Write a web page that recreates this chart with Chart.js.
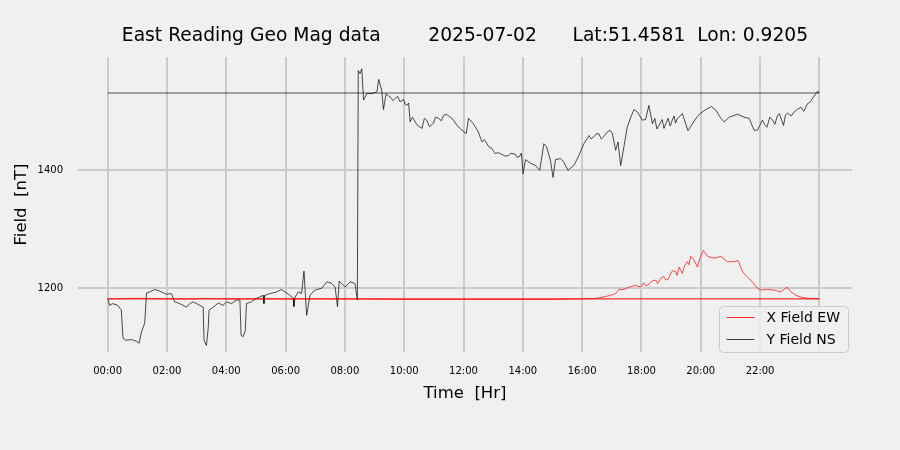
<!DOCTYPE html>
<html>
<head>
<meta charset="utf-8">
<title>East Reading Geo Mag data</title>
<script src="https://cdn.jsdelivr.net/npm/chart.js@4.4.0/dist/chart.umd.min.js"></script>
<style>
  html, body { margin: 0; padding: 0; background: #f0f0f0; }
  #wrap { width: 900px; height: 450px; }
</style>
</head>
<body>
<div id="wrap"><canvas id="geoChart" width="900" height="450"></canvas></div>
<script>
// East Reading magnetometer - one day of X (EW) and Y (NS) field

// ── Data ────────────────────────────────────────────────────────────────────
const titleText = 'East Reading Geo Mag data        2025-07-02      Lat:51.4581  Lon: 0.9205';

// Y field (NS), hours since midnight and nT
const yFieldHours = [
    0.01, 0.07, 0.17, 0.34, 0.46, 0.52, 0.61, 0.81, 0.98, 1.06, 1.14, 1.25, 1.31, 1.42, 1.59, 1.76,
    1.98, 2.15, 2.26, 2.43, 2.66, 2.77, 2.88, 3.11, 3.22, 3.25, 3.33, 3.39, 3.42, 3.56, 3.73, 3.89,
    4.01, 4.18, 4.34, 4.46, 4.50, 4.57, 4.64, 4.68, 4.85, 5.02, 5.24, 5.27, 5.30, 5.47, 5.70, 5.86,
    6.03, 6.15, 6.26, 6.28, 6.32, 6.43, 6.54, 6.62, 6.71, 6.82, 6.99, 7.22, 7.39, 7.56, 7.67, 7.75,
    7.81, 8.01, 8.18, 8.34, 8.42, 8.45, 8.51, 8.57, 8.63, 8.74, 8.91, 9.08, 9.14, 9.24, 9.30, 9.39,
    9.45, 9.53, 9.62, 9.70, 9.78, 9.86, 9.98, 10.03, 10.09, 10.15, 10.20, 10.28, 10.37, 10.45, 10.60, 10.68,
    10.76, 10.85, 10.99, 11.05, 11.16, 11.25, 11.33, 11.42, 11.55, 11.65, 11.78, 11.95, 12.09,
    12.17, 12.33, 12.50, 12.62, 12.70, 12.79, 12.85, 12.96, 13.00, 13.07, 13.15, 13.30, 13.40, 13.52, 13.60, 13.75,
    13.81, 13.90, 13.95, 14.01, 14.09, 14.26, 14.43,
    14.57, 14.71, 14.80, 14.93, 15.02, 15.10, 15.27, 15.38, 15.52, 15.72, 15.89, 16.06, 16.23, 16.30, 16.40, 16.48,
    16.56, 16.65, 16.73, 16.85,
    16.94, 17.02, 17.13, 17.21, 17.30, 17.41, 17.52, 17.64, 17.75, 17.86, 18.03, 18.14, 18.25, 18.37, 18.45, 18.52,
    18.59, 18.70, 18.76, 18.82, 18.90, 18.97,
    19.04, 19.10, 19.15, 19.21, 19.30, 19.38, 19.49, 19.57, 19.72, 19.88, 20.00, 20.17, 20.36, 20.51, 20.68, 20.79,
    20.96, 21.24, 21.46,
    21.63, 21.80, 21.91, 22.08, 22.15, 22.23, 22.33, 22.42, 22.50, 22.58, 22.65, 22.79, 22.86, 22.93, 23.05, 23.15,
    23.25, 23.38, 23.48, 23.60, 23.70, 23.77, 23.94, 24.00
];
const yFieldNT = [
    1181, 1171, 1174, 1171, 1163, 1115, 1112, 1113, 1110, 1107, 1126, 1141, 1192, 1194, 1198, 1195,
    1190, 1191, 1177, 1174, 1168, 1174, 1177, 1171, 1168, 1112, 1103, 1132, 1163, 1168, 1175, 1171,
    1177, 1174, 1180, 1180, 1120, 1118, 1128, 1174, 1177, 1183, 1188, 1174, 1188, 1191, 1194, 1198,
    1192, 1188, 1183, 1169, 1185, 1194, 1191, 1229, 1154, 1188, 1197, 1200, 1211, 1208, 1202, 1169,
    1212, 1202, 1211, 1208, 1180, 1569, 1564, 1572, 1519, 1530, 1530, 1533, 1554, 1536, 1503, 1530,
    1527, 1524, 1518, 1522, 1525, 1516, 1520, 1512, 1510, 1514, 1482, 1490, 1482, 1476, 1471, 1488,
    1485, 1474, 1480, 1490, 1488, 1484, 1493, 1495, 1490, 1486, 1476, 1468, 1462,
    1488, 1479, 1465, 1448, 1452, 1445, 1440, 1437, 1433, 1428, 1430, 1427, 1424, 1425, 1429, 1427,
    1422, 1424, 1429, 1394, 1418, 1412, 1408,
    1400, 1445, 1440, 1417, 1388, 1418, 1420, 1414, 1400, 1408, 1425, 1445, 1459, 1453, 1457, 1462,
    1462, 1453, 1457, 1465,
    1468, 1462, 1434, 1448, 1408, 1440, 1473, 1490, 1503, 1499, 1485, 1486, 1510, 1479, 1488, 1470,
    1476, 1486, 1471, 1479, 1488, 1475,
    1485, 1492, 1480, 1488, 1492, 1496, 1479, 1467, 1479, 1491, 1497, 1503, 1508, 1502, 1488, 1482,
    1490, 1495, 1490,
    1488, 1468, 1468, 1485, 1478, 1473, 1490, 1485, 1478, 1492, 1496, 1476, 1494, 1497, 1492, 1499,
    1503, 1507, 1500, 1513, 1516, 1522, 1534, 1531
];

// X field (EW), hours since midnight and nT
const xFieldHours = [
    0.00, 1.00, 2.00, 3.00, 3.30, 4.00, 6.00, 8.00, 10.00, 12.00, 14.00, 15.00, 16.00, 16.50,
    16.96, 17.13, 17.24, 17.41, 17.58, 17.80, 17.97, 18.08, 18.15, 18.25, 18.35, 18.48, 18.55, 18.65,
    18.75, 18.82, 18.90, 18.99, 19.05, 19.15, 19.20,
    19.27, 19.38, 19.45, 19.55, 19.60, 19.66, 19.77, 19.89, 19.97, 20.09, 20.23, 20.45, 20.68, 20.90, 21.12, 21.26,
    21.41, 21.57, 21.74, 21.91, 22.03, 22.25, 22.47, 22.70, 22.91, 23.04, 23.21, 23.38, 23.60, 24.00
];
const xFieldNT = [
    1182, 1183, 1182, 1182, 1183, 1182, 1182, 1182, 1181, 1181, 1181, 1181, 1182, 1183,
    1188, 1191, 1198, 1198, 1202, 1205, 1202, 1209, 1204, 1207, 1212, 1214, 1208, 1217,
    1220, 1214, 1215, 1225, 1230, 1228, 1222,
    1236, 1225, 1238, 1245, 1240, 1254, 1248, 1236, 1251, 1264, 1254, 1251, 1254, 1245, 1245, 1247,
    1228, 1219, 1211, 1200, 1197, 1198, 1197, 1194, 1202, 1194, 1188, 1185, 1183, 1182
];

// horizontal reference levels [Y, X], nT
const refLevels = [1531, 1182];

// axes
const xTickHours  = [0, 2, 4, 6, 8, 10, 12, 14, 16, 18, 20, 22, 24];
const xTickLabels = ['00:00', '02:00', '04:00', '06:00', '08:00', '10:00', '12:00',
                     '14:00', '16:00', '18:00', '20:00', '22:00', ''];
const yTickValues = [1200, 1400];

// ── Helpers ─────────────────────────────────────────────────────────────────
const FONT = "'DejaVu Sans', 'Liberation Sans', sans-serif";

function toPoints(hours, values) {
    return hours.map((h, i) => ({ x: h, y: values[i] })).sort((a, b) => a.x - b.x);
}

function flatLine(level) {
    return [{ x: 0, y: level }, { x: 24, y: level }];
}

// background, title and the little legend box in the lower right
const decorPlugin = {
    id: 'decor',
    beforeDraw(chart) {
        const ctx = chart.ctx;
        ctx.save();
        ctx.fillStyle = '#f0f0f0';
        ctx.fillRect(0, 0, chart.width, chart.height);
        ctx.restore();
    },
    afterDraw(chart) {
        const ctx = chart.ctx;
        const area = chart.chartArea;
        ctx.save();

        // title
        ctx.fillStyle = '#000';
        ctx.font = '18.7px ' + FONT;
        ctx.textAlign = 'center';
        ctx.textBaseline = 'middle';
        ctx.fillText(titleText, (area.left + area.right) / 2, 36);

        // legend
        const items = chart.data.datasets.filter(d => d.inLegend);
        const w = 129, h = 46;
        const bx = area.right - w - 3.5, by = area.bottom - h + 0.5;
        ctx.beginPath();
        ctx.roundRect(bx, by, w, h, 4);
        ctx.fillStyle = 'rgba(240,240,240,0.85)';
        ctx.fill();
        ctx.strokeStyle = '#cccccc';
        ctx.lineWidth = 1;
        ctx.stroke();

        ctx.font = '14px ' + FONT;
        ctx.textAlign = 'left';
        items.forEach((d, i) => {
            const ly = by + 11 + i * 22;
            ctx.beginPath();
            ctx.moveTo(bx + 7, ly);
            ctx.lineTo(bx + 35, ly);
            ctx.strokeStyle = d.legendColor;
            ctx.lineWidth = 1;
            ctx.stroke();
            ctx.fillStyle = '#000';
            ctx.fillText(d.label, bx + 47, ly + 1);
        });
        ctx.restore();
    }
};

// ── Chart ───────────────────────────────────────────────────────────────────
const ctx = document.getElementById('geoChart');

new Chart(ctx, {
    type: 'line',
    data: {
        datasets: [
            {
                label: 'X Field EW',
                inLegend: true,
                legendColor: 'rgba(255,0,0,0.85)',
                data: toPoints(xFieldHours, xFieldNT),
                borderColor: '#ff0000',
                borderWidth: 0.7
            },
            {
                label: 'Y Field NS',
                inLegend: true,
                legendColor: 'rgba(0,0,0,0.75)',
                data: toPoints(yFieldHours, yFieldNT),
                borderColor: '#000000',
                borderWidth: 0.7
            },
            {
                label: 'Y level',
                data: flatLine(refLevels[0]),
                borderColor: 'rgba(0,0,0,0.45)',
                borderWidth: 1.5
            },
            {
                label: 'X level',
                data: flatLine(refLevels[1]),
                borderColor: '#ff0000',
                borderWidth: 1
            }
        ]
    },
    options: {
        responsive: false,
        animation: false,
        layout: { padding: { top: 57, right: 48, left: 0, bottom: 0 } },
        elements: {
            point: { radius: 0 },
            line: { tension: 0, fill: false }
        },
        plugins: {
            legend: { display: false },
            title: { display: false },
            tooltip: { enabled: false }
        },
        scales: {
            x: {
                type: 'linear',
                min: -1.0,
                max: 25.1,
                afterBuildTicks: s => { s.ticks = xTickHours.map(v => ({ value: v })); },
                afterFit: s => { s.height = 98; },
                grid: { color: '#cbcbcb', lineWidth: 2, drawTicks: false },
                border: { display: false },
                ticks: {
                    autoSkip: false,
                    maxRotation: 0,
                    padding: 13,
                    color: '#000',
                    font: { family: FONT, size: 10 },
                    callback: (v, i) => xTickLabels[i]
                },
                title: {
                    display: true,
                    text: 'Time  [Hr]',
                    color: '#000',
                    font: { family: FONT, size: 16.5 },
                    padding: { top: 0, bottom: 46 }
                }
            },
            y: {
                min: 1092,
                max: 1592,
                afterBuildTicks: s => { s.ticks = yTickValues.map(v => ({ value: v })); },
                afterFit: s => { s.width = 78; },
                grid: { color: '#cbcbcb', lineWidth: 2, drawTicks: false },
                border: { display: false },
                ticks: {
                    padding: 15,
                    color: '#000',
                    font: { family: FONT, size: 10 },
                    callback: v => String(v)
                },
                title: {
                    display: true,
                    text: 'Field  [nT]',
                    color: '#000',
                    font: { family: FONT, size: 16.5 },
                    padding: { top: 12, bottom: 0 }
                }
            }
        }
    },
    plugins: [decorPlugin]
});
</script>
</body>
</html>
